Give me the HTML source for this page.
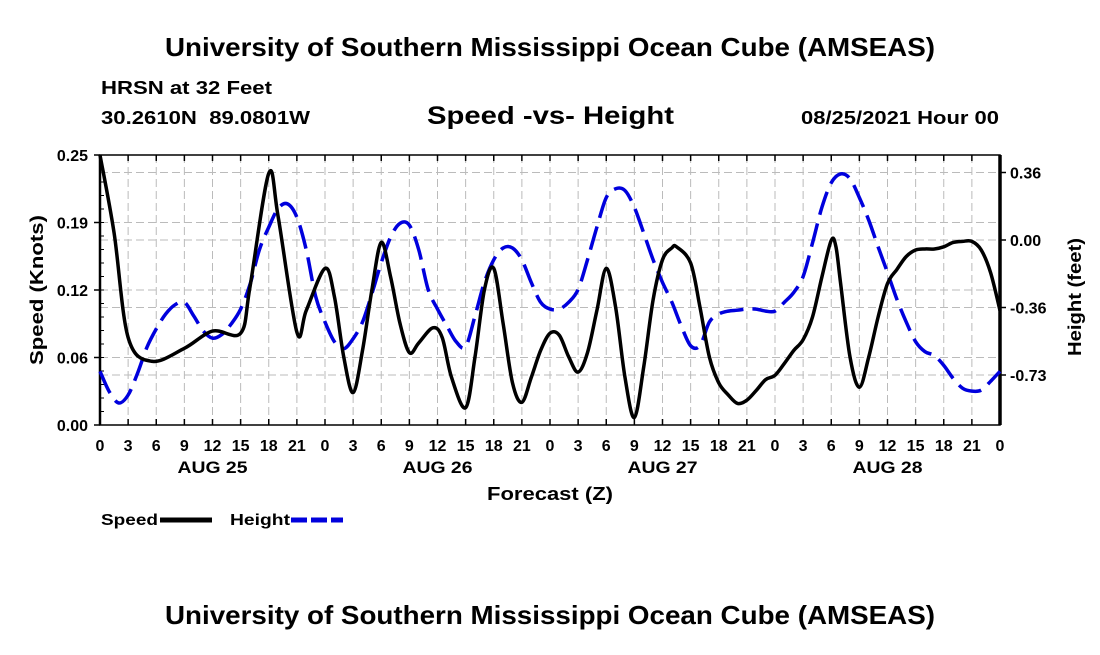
<!DOCTYPE html>
<html><head><meta charset="utf-8"><style>
body{margin:0;background:#fff;width:1100px;height:650px;overflow:hidden;font-family:"Liberation Sans",sans-serif}
svg text{font-family:"Liberation Sans",sans-serif;font-weight:bold;fill:#000}
</style></head><body>
<svg id="c" width="1100" height="650">
<text x="165" y="56" font-size="26" textLength="770" lengthAdjust="spacingAndGlyphs">University of Southern Mississippi Ocean Cube (AMSEAS)</text>
<text x="101" y="94" font-size="18" textLength="171" lengthAdjust="spacingAndGlyphs">HRSN at 32 Feet</text>
<text x="101" y="124" font-size="18" textLength="209" lengthAdjust="spacingAndGlyphs" xml:space="preserve">30.2610N  89.0801W</text>
<text x="427" y="124" font-size="25" textLength="247" lengthAdjust="spacingAndGlyphs">Speed -vs- Height</text>
<text x="801" y="124" font-size="18" textLength="198" lengthAdjust="spacingAndGlyphs">08/25/2021 Hour 00</text>
<text x="165" y="624" font-size="26" textLength="770" lengthAdjust="spacingAndGlyphs">University of Southern Mississippi Ocean Cube (AMSEAS)</text>
<text x="487" y="500" font-size="18" textLength="126" lengthAdjust="spacingAndGlyphs">Forecast (Z)</text>
<text transform="translate(43,290) rotate(-90)" font-size="18" text-anchor="middle" textLength="150" lengthAdjust="spacingAndGlyphs">Speed (Knots)</text>
<text transform="translate(1081,297) rotate(-90)" font-size="18" text-anchor="middle" textLength="118" lengthAdjust="spacingAndGlyphs">Height (feet)</text>
<g>
<text x="101" y="525" font-size="16" textLength="57" lengthAdjust="spacingAndGlyphs">Speed</text>
<line x1="160" y1="520" x2="212" y2="520" stroke="#000" stroke-width="5"/>
<text x="230" y="525" font-size="16" textLength="60" lengthAdjust="spacingAndGlyphs">Height</text>
<line x1="291" y1="520" x2="343" y2="520" stroke="#0000dd" stroke-width="5" stroke-dasharray="16,4"/>
</g>
<g id="plot"></g>
</svg>
<script>
const speedHours=[0,1.5,3,5.5,9,12,15,16,18,19,21,22,24,25,26,27,28,29,30,31,32,33,34,35.5,36.5,37.5,39,40,41,42,43,44,45,46,47,48,49,50,51,52,53,54,55,56,57,58,59,60,61,61.5,63,64,65,66,67,68,69,70,71,72,73,74,75,76,77,78,78.5,79,80,81,82,83,84,85,86,87,88,89,90,91,92,93,94,95,96];
const speedValues=[0.25,0.178,0.081,0.059,0.071,0.087,0.085,0.128,0.233,0.193,0.086,0.106,0.145,0.119,0.063,0.030,0.069,0.125,0.169,0.137,0.094,0.067,0.076,0.090,0.081,0.044,0.016,0.063,0.125,0.145,0.094,0.039,0.021,0.044,0.069,0.085,0.083,0.063,0.049,0.067,0.106,0.145,0.109,0.044,0.007,0.054,0.116,0.153,0.164,0.165,0.150,0.109,0.063,0.039,0.028,0.020,0.023,0.032,0.042,0.046,0.057,0.069,0.079,0.100,0.137,0.171,0.165,0.131,0.063,0.035,0.063,0.100,0.131,0.144,0.156,0.162,0.163,0.163,0.165,0.169,0.170,0.170,0.162,0.141,0.106];
const heightValues=[-0.709,-0.82,-0.88,-0.837,-0.72,-0.58,-0.48,-0.40,-0.35,-0.336,-0.41,-0.49,-0.53,-0.51,-0.453,-0.373,-0.24,-0.053,0.069,0.17,0.195,0.123,-0.053,-0.304,-0.443,-0.549,-0.587,-0.533,-0.443,-0.29,-0.123,0.016,0.09,0.08,-0.053,-0.267,-0.373,-0.464,-0.55,-0.576,-0.41,-0.229,-0.107,-0.043,-0.043,-0.107,-0.229,-0.336,-0.373,-0.373,-0.336,-0.267,-0.107,0.069,0.229,0.277,0.267,0.176,0.037,-0.107,-0.229,-0.336,-0.464,-0.571,-0.57,-0.443,-0.40,-0.384,-0.379,-0.373,-0.373,-0.384,-0.384,-0.336,-0.283,-0.197,-0.016,0.176,0.309,0.357,0.331,0.229,0.107,-0.037,-0.176,-0.32,-0.443,-0.549,-0.603,-0.624,-0.677,-0.747,-0.80,-0.816,-0.811,-0.763,-0.709];
const leftTicks=[0,0.0625,0.125,0.1875,0.25];
const leftTickLabels=["0.00","0.06","0.12","0.19","0.25"];
const rightTicks=[-0.729,-0.3645,0,0.3645];
const rightTickLabels=["-0.73","-0.36","0.00","0.36"];
const hourLabels=["0","3","6","9","12","15","18","21"];
const dayLabels=["AUG 25","AUG 26","AUG 27","AUG 28"];

const X0=100,X1=1000,Y0=155,Y1=425,NS="http://www.w3.org/2000/svg";
const xs=h=>X0+(h/96)*(X1-X0);
const yl=v=>Y1-(v/0.25)*(Y1-Y0);
const yr=v=>240-(v/0.3645)*67.5;
const g=document.getElementById('plot');
function mk(t,a){const e=document.createElementNS(NS,t);for(const k in a)e.setAttribute(k,a[k]);g.appendChild(e);return e;}
for(let i=0;i<=32;i++){const x=xs(i*3);
 const l=mk('line',{x1:x,y1:Y0,x2:x,y2:Y1,stroke:'#bbb','stroke-dasharray':'8,4','stroke-width':1});
 
 
 const t=mk('line',{x1:x,y1:Y0,x2:x,y2:Y0+6,stroke:'#000','stroke-width':1.5});
 
 
 const t2=mk('line',{x1:x,y1:Y1,x2:x,y2:Y1-6,stroke:'#000','stroke-width':1.5});
 
 
 const tx=mk('text',{x:x,y:451,'font-size':16,'text-anchor':'middle'});tx.textContent=hourLabels[i%8];
 
 
}
dayLabels.forEach((d,i)=>{const t=mk('text',{x:xs(12+24*i),y:473,'font-size':17,'text-anchor':'middle',textLength:70,lengthAdjust:'spacingAndGlyphs'});t.textContent=d;
 
 });
leftTicks.forEach((v,i)=>{const y=yl(v);
 if(i>0&&i<4){const l=mk('line',{x1:X0,y1:y,x2:X1,y2:y,stroke:'#bbb','stroke-dasharray':'8,4'});
  
  }
 const t=mk('line',{x1:X0-6,y1:y,x2:X0,y2:y,stroke:'#000','stroke-width':1.5});
 
 
 const tx=mk('text',{x:X0-12,y:y+6,'font-size':16,'text-anchor':'end'});tx.textContent=leftTickLabels[i];
 
 });
for(let i=1;i<20;i++){const y=Y1-i*(Y1-Y0)/20;mk('line',{x1:X0,y1:y,x2:X0+4,y2:y,stroke:'#000'});}
rightTicks.forEach((v,i)=>{const y=yr(v);
 const l=mk('line',{x1:X0,y1:y,x2:X1,y2:y,stroke:'#bbb','stroke-dasharray':'8,4'});
 
 
 const t=mk('line',{x1:X1,y1:y,x2:X1+6,y2:y,stroke:'#000','stroke-width':1.5});
 
 
 const tx=mk('text',{x:X1+10,y:y+6,'font-size':16});tx.textContent=rightTickLabels[i];
 
 });
const fr=mk('rect',{x:X0,y:Y0,width:X1-X0,height:Y1-Y0,fill:'none',stroke:'#000','stroke-width':1.5});


mk('line',{x1:X0,y1:Y0,x2:X0,y2:Y1,stroke:'#000','stroke-width':2.5});
mk('line',{x1:X1,y1:Y0,x2:X1,y2:Y1,stroke:'#000','stroke-width':3.5});
function smooth(pts){let d='M'+pts[0][0]+','+pts[0][1];
 for(let i=0;i<pts.length-1;i++){const p0=pts[Math.max(0,i-1)],p1=pts[i],p2=pts[i+1],p3=pts[Math.min(pts.length-1,i+2)];
  d+=' C'+(p1[0]+(p2[0]-p0[0])/6)+','+(p1[1]+(p2[1]-p0[1])/6)+' '+(p2[0]-(p3[0]-p1[0])/6)+','+(p2[1]-(p3[1]-p1[1])/6)+' '+p2[0]+','+p2[1];}
 return d;}
const hp=heightValues.map((v,i)=>[xs(i),yr(v)]);
const hl=mk('path',{d:smooth(hp),fill:'none',stroke:'#0000dd','stroke-width':3.5,'stroke-dasharray':'24,9'});


const sp=speedValues.map((v,i)=>[xs(speedHours[i]),yl(v)]);
const sl=mk('path',{d:smooth(sp),fill:'none',stroke:'#000','stroke-width':3.5});


</script>
</body></html>
